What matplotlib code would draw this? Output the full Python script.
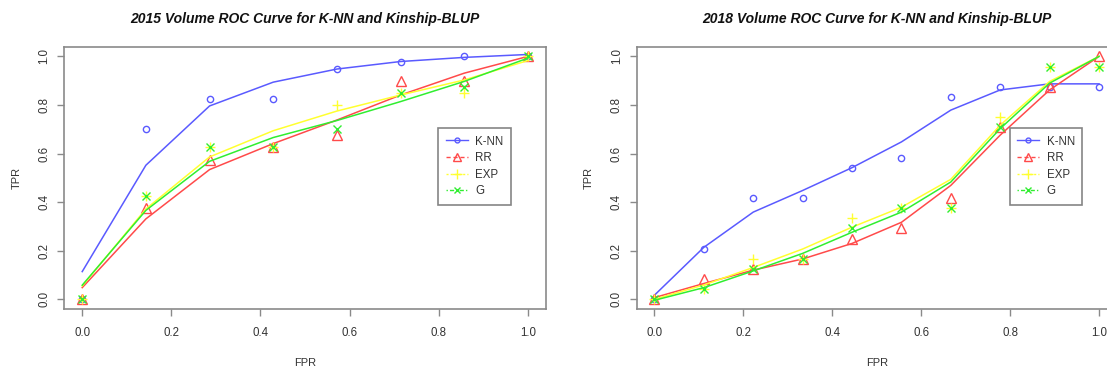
import numpy as np
import matplotlib
matplotlib.use("Agg")
import matplotlib.pyplot as plt
from matplotlib.lines import Line2D

plt.rcParams['font.family'] = ['Liberation Sans', 'DejaVu Sans']

# ---------------- data ----------------
series_names = ["K-NN", "RR", "EXP", "G"]

fpr_2015 = [0, 1/7, 2/7, 3/7, 4/7, 5/7, 6/7, 1.0]
pts_2015 = {
    "K-NN": [0.0, 0.700, 0.825, 0.825, 0.950, 0.975, 1.000, 1.000],
    "RR":   [0.0, 0.375, 0.575, 0.625, 0.675, 0.900, 0.900, 1.000],
    "EXP":  [0.0, 0.425, 0.625, 0.625, 0.800, 0.850, 0.850, 1.000],
    "G":    [0.0, 0.425, 0.625, 0.625, 0.700, 0.850, 0.875, 1.000],
}
fit_2015 = {
    "K-NN": [0.114, 0.552, 0.796, 0.894, 0.948, 0.979, 0.996, 1.008],
    "RR":   [0.048, 0.331, 0.534, 0.641, 0.738, 0.841, 0.931, 1.000],
    "EXP":  [0.055, 0.372, 0.586, 0.694, 0.775, 0.841, 0.903, 0.983],
    "G":    [0.058, 0.366, 0.568, 0.666, 0.736, 0.814, 0.897, 0.993],
}

fpr_2018 = [0, 1/9, 2/9, 3/9, 4/9, 5/9, 6/9, 7/9, 8/9, 1.0]
pts_2018 = {
    "K-NN": [0.0, 0.208, 0.417, 0.417, 0.542, 0.583, 0.833, 0.875, 0.875, 0.875],
    "RR":   [0.0, 0.083, 0.125, 0.167, 0.250, 0.292, 0.417, 0.708, 0.875, 1.000],
    "EXP":  [0.0, 0.042, 0.167, 0.167, 0.333, 0.375, 0.375, 0.750, 0.958, 0.958],
    "G":    [0.0, 0.042, 0.125, 0.167, 0.292, 0.375, 0.375, 0.708, 0.958, 0.958],
}
fit_2018 = {
    "K-NN": [0.017, 0.214, 0.359, 0.448, 0.542, 0.648, 0.779, 0.862, 0.887, 0.887],
    "RR":   [0.007, 0.065, 0.120, 0.166, 0.230, 0.317, 0.469, 0.676, 0.862, 1.000],
    "EXP":  [0.000, 0.059, 0.131, 0.207, 0.297, 0.379, 0.494, 0.717, 0.897, 1.000],
    "G":    [-0.004, 0.048, 0.117, 0.189, 0.276, 0.359, 0.483, 0.703, 0.890, 1.000],
}

titles = ["2015 Volume ROC Curve for K-NN and Kinship-BLUP",
          "2018 Volume ROC Curve for K-NN and Kinship-BLUP"]
ticks = [0.0, 0.2, 0.4, 0.6, 0.8, 1.0]
tick_labels = ["0.0", "0.2", "0.4", "0.6", "0.8", "1.0"]

# ---------------- style ----------------
colors = {"K-NN": "#5a5aff", "RR": "#ff4a4a", "EXP": "#ffff30", "G": "#30ee30"}
markers = {"K-NN": "o", "RR": "^", "EXP": "+", "G": "x"}
msizes = {"K-NN": 4.5, "RR": 6.5, "EXP": 7.5, "G": 5.5}
leg_ls = {"K-NN": "-", "RR": (0, (3, 2)), "EXP": (0, (1.5, 1.5)), "G": (0, (1, 1.5, 3, 1.5))}

W, H = 1107, 371
fig = plt.figure(figsize=(W / 100, H / 100), dpi=100)

axes_px = [(64.4, 545.7), (636.7, 1116.8)]
top_px, bot_px = 46.7, 309.0
spine_col = "#8a8a8a"
text_col = "#333333"

for i, (fpr, pts, fit) in enumerate([(fpr_2015, pts_2015, fit_2015),
                                     (fpr_2018, pts_2018, fit_2018)]):
    x0, x1 = axes_px[i]
    ax = fig.add_axes([x0 / W, 1 - bot_px / H, (x1 - x0) / W, (bot_px - top_px) / H])
    for name in series_names:
        c = colors[name]
        ax.plot(fpr, pts[name], linestyle="none", marker=markers[name],
                ms=msizes[name], mfc="none", mec=c, mew=1.0)
        ax.plot(fpr, fit[name], color=c, lw=1.1)
    ax.set_xlim(-0.04, 1.04)
    ax.set_ylim(-0.04, 1.04)
    ax.set_xticks(ticks)
    ax.set_xticklabels(tick_labels)
    ax.set_yticks(ticks)
    ax.set_yticklabels(tick_labels, rotation=90, va="center")
    for s in ax.spines.values():
        s.set_color(spine_col)
        s.set_linewidth(1.2)
    ax.tick_params(axis="both", length=5, width=1.0, color=spine_col,
                   labelsize=8.3, labelcolor=text_col)
    ax.tick_params(axis="x", pad=8)
    ax.tick_params(axis="y", pad=5)
    ax.set_xlabel("FPR", fontsize=8, color=text_col, labelpad=14)
    ax.set_ylabel("TPR", fontsize=8, color=text_col, labelpad=12)
    ax.set_title(titles[i], fontsize=10, fontweight="bold", fontstyle="italic",
                 color="#111111", pad=17)

    handles = [Line2D([], [], color=colors[n], ls=leg_ls[n], lw=1.0,
                      marker=markers[n], ms=msizes[n] - 1, mfc="none",
                      mec=colors[n]) for n in series_names]
    leg = ax.legend(handles, series_names, loc="upper left",
                    bbox_to_anchor=(0.777, 0.69), borderaxespad=0,
                    fontsize=8.3, frameon=True, fancybox=False,
                    handlelength=1.9, handletextpad=0.65, labelspacing=0.4,
                    borderpad=0.65, labelcolor=text_col)
    leg.get_frame().set_edgecolor("#666666")
    leg.get_frame().set_linewidth(1.2)

fig.savefig("out.png", dpi=100)
